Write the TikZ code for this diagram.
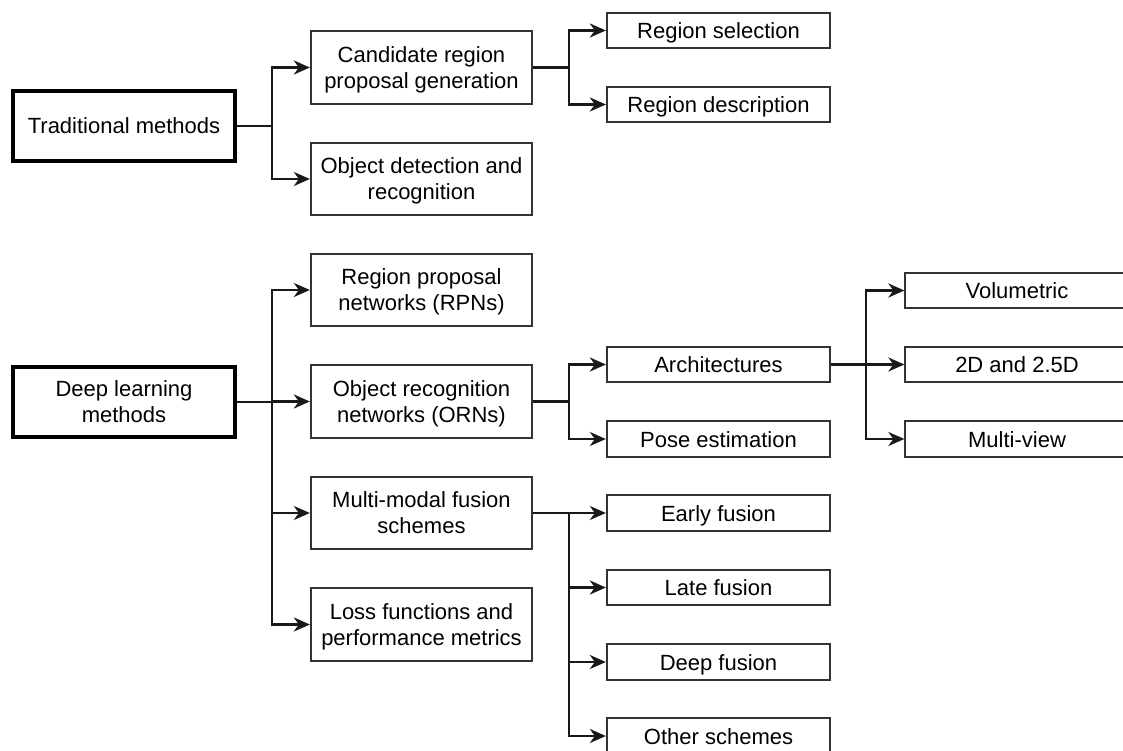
\documentclass[tikz,border=0pt]{standalone}
\usepackage{fontspec}
\setmainfont{Liberation Sans}
\usetikzlibrary{arrows.meta}
\begin{document}
\begin{tikzpicture}[x=1pt,y=-1pt,
  box/.style={draw=black!80, line width=1.8pt, minimum width=221.5pt, minimum height=72.5pt,
    align=center, inner sep=0pt, text depth=-4pt, font=\fontsize{22}{26}\selectfont},
  sbox/.style={box, minimum width=223.5pt, minimum height=35.5pt, text height=16pt, text depth=0pt},
  tbox/.style={box, draw=black, line width=4.8pt, minimum width=222pt, minimum height=70pt},
  conn/.style={draw=black!90, line width=2.5pt, -{Stealth[length=16pt,width=14pt,inset=5pt]}}]
\useasboundingbox (0,0) rectangle (1123,751);
% junction columns
\coordinate (ja) at (272,0);
\coordinate (jb) at (569,0);
\coordinate (jc) at (866,0);
% traditional
\node[tbox, text height=16pt, text depth=0pt] (trad) at (124,126) {Traditional methods};
\node[box] (cand) at (421.5,67.5) {Candidate region\\proposal generation};
\node[box] (objdet) at (421.5,179) {Object detection and\\recognition};
\node[sbox] (regsel) at (718.5,30.5) {Region selection};
\node[sbox] (regdesc) at (718.5,104.5) {Region description};
% deep learning
\node[tbox] (deep) at (124,402) {Deep learning\\methods};
\node[box] (rpn) at (421.5,290) {Region proposal\\networks (RPNs)};
\node[box] (orn) at (421.5,401.5) {Object recognition\\networks (ORNs)};
\node[box] (mm) at (421.5,513) {Multi-modal fusion\\schemes};
\node[box] (loss) at (421.5,624.5) {Loss functions and\\performance metrics};
\node[sbox] (arch) at (718.5,364.5) {Architectures};
\node[sbox] (pose) at (718.5,439) {Pose estimation};
\node[sbox] (vol) at (1017,290.5) {Volumetric};
\node[sbox] (twod) at (1017,364.5) {2D and 2.5D};
\node[sbox] (mv) at (1017,439) {Multi-view};
\node[sbox] (early) at (718.5,513) {Early fusion};
\node[sbox] (late) at (718.5,587.5) {Late fusion};
\node[sbox] (deepf) at (718.5,662) {Deep fusion};
\node[sbox] (other) at (718.5,736) {Other schemes};
% connectors
\foreach \c in {cand,objdet} \draw[conn] (trad.east) -- (trad.east -| ja) |- (\c.west);
\foreach \c in {regsel,regdesc} \draw[conn] (cand.east) -- (cand.east -| jb) |- (\c.west);
\foreach \c in {rpn,orn,mm,loss} \draw[conn] (deep.east) -- (deep.east -| ja) |- (\c.west);
\foreach \c in {arch,pose} \draw[conn] (orn.east) -- (orn.east -| jb) |- (\c.west);
\foreach \c in {vol,twod,mv} \draw[conn] (arch.east) -- (arch.east -| jc) |- (\c.west);
\foreach \c in {early,late,deepf,other} \draw[conn] (mm.east) -- (mm.east -| jb) |- (\c.west);
\end{tikzpicture}
\end{document}
